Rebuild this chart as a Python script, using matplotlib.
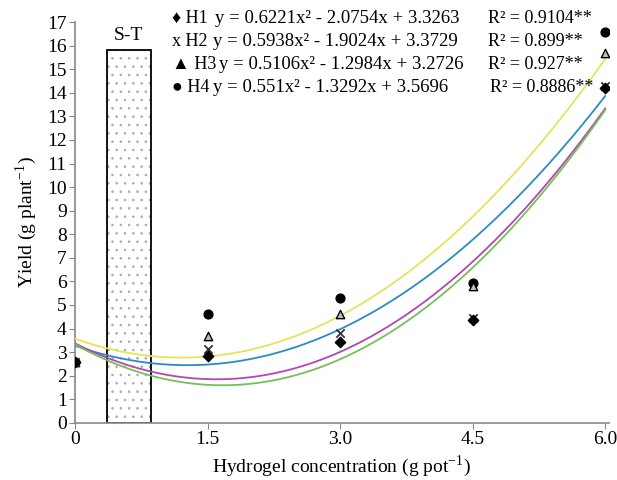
import numpy as np
import matplotlib.pyplot as plt
from matplotlib.patches import Rectangle

plt.rcParams['font.family'] = ['Liberation Serif', 'DejaVu Serif']
plt.rcParams['mathtext.fontset'] = 'stix'
plt.rcParams['hatch.linewidth'] = 0.6

# hydrogel doses and observed yields
doses = [0, 1.5, 3.0, 4.5, 6.0]
h1 = [2.6, 2.85, 3.45, 4.35, 14.2]
h2 = [2.6, 3.15, 3.8, 4.45, 14.3]
h3 = [2.6, 3.7, 4.6, 5.8, 15.7]
h4 = [2.6, 4.6, 5.3, 5.95, 16.6]

# fitted quadratic coefficients (a, b, c) per hybrid
coef_h1 = (0.6221, -2.0754, 3.3263)
coef_h2 = (0.5938, -1.9024, 3.3729)
coef_h3 = (0.5106, -1.2984, 3.2726)
coef_h4 = (0.551, -1.3292, 3.5696)

eq_labels = [
    ("\u2666 H1", "y = 0.6221x\u00b2 - 2.0754x + 3.3263", "R\u00b2 = 0.9104**"),
    ("x H2", "y = 0.5938x\u00b2 - 1.9024x + 3.3729", "R\u00b2 = 0.899**"),
    ("\u25b2 H3", "y = 0.5106x\u00b2 - 1.2984x + 3.2726", "R\u00b2 = 0.927**"),
    ("\u25cf H4", "y = 0.551x\u00b2 - 1.3292x + 3.5696", "R\u00b2 = 0.8886**"),
]
eq_x = [215, 213, 219, 213]
r2_x = [488, 488, 488, 490]

fig = plt.figure(figsize=(6.17, 4.8), dpi=100)
ax = fig.add_axes([0.1216, 0.119, 0.865, 0.835])

# S-T box
ax.add_patch(Rectangle((0.36, 0), 0.5, 15.8, facecolor='white', edgecolor='#9eabbd',
                       hatch='..', linewidth=0, zorder=1))
ax.add_patch(Rectangle((0.36, 0), 0.5, 15.8, facecolor='none', edgecolor='black',
                       linewidth=1.3, zorder=2))
ax.text(0.61, 16.05, "S-T", ha='center', va='bottom', fontsize=14)

xs = np.linspace(0, 6, 300)
for coef, col in [(coef_h4, '#e6e35a'), (coef_h3, '#2b8cc0'),
                  (coef_h2, '#b346b3'), (coef_h1, '#72c255')]:
    a, b, c = coef
    ax.plot(xs, a * xs**2 + b * xs + c, color=col, lw=1.3, zorder=3)

ax.scatter(doses, h4, marker='o', s=40, color='black', zorder=5)
ax.scatter(doses, h3, marker='^', s=36, facecolor='#bbbbbb', edgecolor='black', lw=1, zorder=5)
ax.scatter(doses, h2, marker='x', s=36, color='#333333', lw=1.3, zorder=5)
ax.scatter(doses, h1, marker='D', s=28, color='black', zorder=5)

ax.set_xlim(0, 6.04)
ax.set_ylim(0, 17)
ax.set_xticks(doses)
ax.set_xticklabels(['0', '1.5', '3.0', '4.5', '6.0'])
ax.set_yticks(range(0, 18))
ax.tick_params(labelsize=14, color='#888888', length=4, pad=2)
for s in ['top', 'right']:
    ax.spines[s].set_visible(False)
for s in ['left', 'bottom']:
    ax.spines[s].set_color('#888888')
    ax.spines[s].set_linewidth(1.2)

ax.set_xlabel(r"Hydrogel concentration (g pot$^{\mathregular{-1}}$)", fontsize=14, labelpad=4)
ax.set_ylabel(r"Yield (g plant$^{\mathregular{-1}}$)", fontsize=14, labelpad=6)

ys = [0.962, 0.914, 0.866, 0.818]
for (lab, eq, r2), yy, ex, rx in zip(eq_labels, ys, eq_x, r2_x):
    fig.text(172 / 617, yy, lab, fontsize=13, va='center')
    fig.text(ex / 617, yy, eq, fontsize=13.5, va='center')
    fig.text(rx / 617, yy, r2, fontsize=13, va='center')

fig.savefig('out.png', dpi=100)
